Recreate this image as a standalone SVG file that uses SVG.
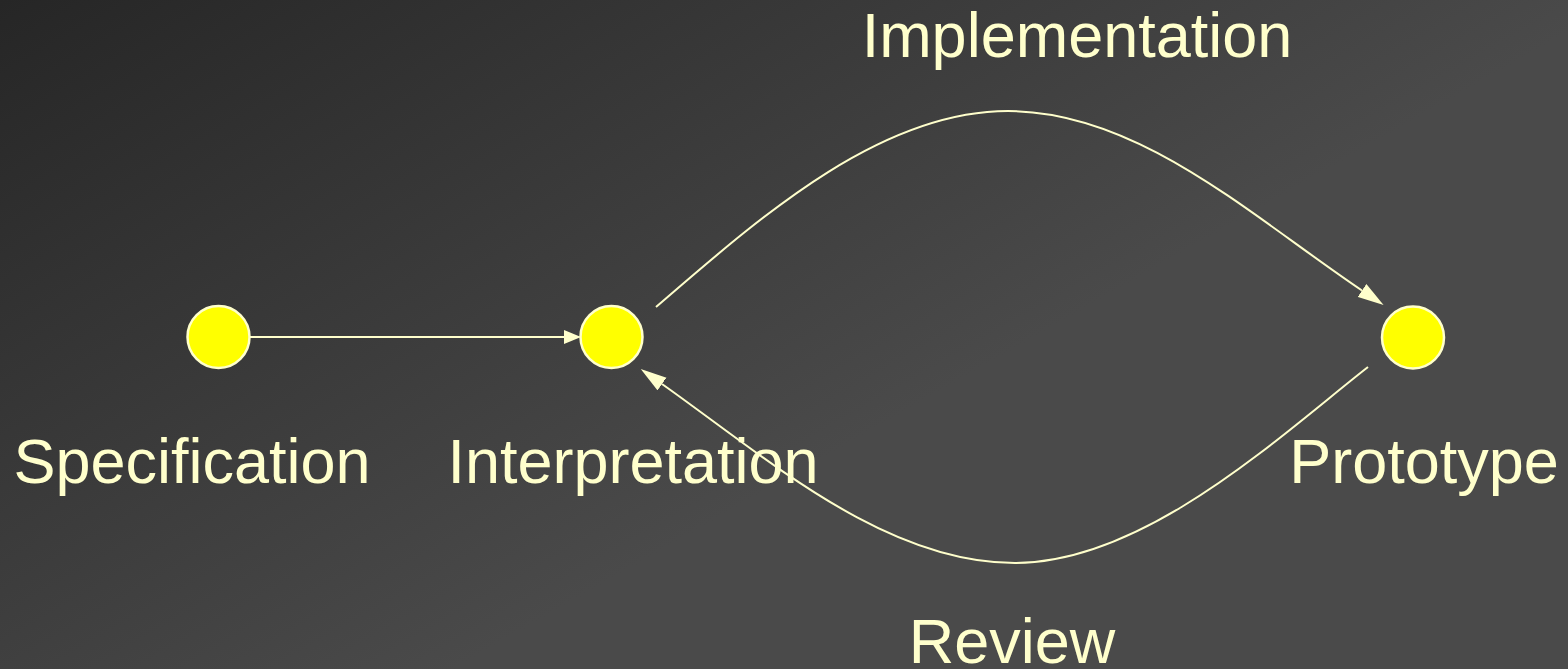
<svg xmlns="http://www.w3.org/2000/svg" width="1568" height="669" viewBox="0 0 1568 669">
  <defs>
    <linearGradient id="bg" gradientUnits="userSpaceOnUse" x1="0" y1="0" x2="400" y2="700">
      <stop offset="0" stop-color="#262626"/>
      <stop offset="1" stop-color="#4a4a4a"/>
    </linearGradient>
    <marker id="arrowL" markerUnits="userSpaceOnUse" markerWidth="26" markerHeight="16" viewBox="0 0 25 15" refX="0" refY="7.5" orient="auto">
      <path d="M0,0 L25,7.5 L0,15 Z" fill="#FFFFCC"/>
    </marker>
    <marker id="arrowS" markerUnits="userSpaceOnUse" markerWidth="17" markerHeight="14" viewBox="0 0 16 13" refX="0" refY="6.5" orient="auto">
      <path d="M0,0 L16,6.5 L0,13 Z" fill="#FFFFCC"/>
    </marker>
  </defs>
  <style>
    .node { fill: #FFFF00; stroke: #FFFFCC; stroke-width: 2.5; }
    .label { font-family: "Liberation Sans", Arial, sans-serif; font-size: 63px; fill: #FFFFCC; text-anchor: middle; }
    .edge { fill: none; stroke: #FFFFCC; stroke-width: 2; }
  </style>
  <rect x="0" y="0" width="1568" height="669" fill="url(#bg)"/>
  <g id="connectors">
    <path class="edge" d="M250,337 L564,337" marker-end="url(#arrowS)"/>
    <path class="edge" d="M656,307 C756,221 878,111 1008,111 C1138,111 1250,215 1362,290.5" marker-end="url(#arrowL)"/>
    <path class="edge" d="M1368,367 C1281,435 1145,563 1015,563 C885,563 768,459 662,384" marker-end="url(#arrowL)"/>
  </g>
  <g id="specification">
    <circle class="node" cx="218.5" cy="337" r="31"/>
    <text class="label" x="192" y="483">Specification</text>
  </g>
  <g id="interpretation">
    <circle class="node" cx="611.5" cy="337" r="31"/>
    <text class="label" x="633" y="483">Interpretation</text>
  </g>
  <g id="prototype">
    <circle class="node" cx="1413" cy="337.5" r="31"/>
    <text class="label" x="1424" y="483">Prototype</text>
  </g>
  <g id="label-implementation">
    <text class="label" x="1077" y="57">Implementation</text>
  </g>
  <g id="label-review">
    <text class="label" x="1012" y="663">Review</text>
  </g>
</svg>
